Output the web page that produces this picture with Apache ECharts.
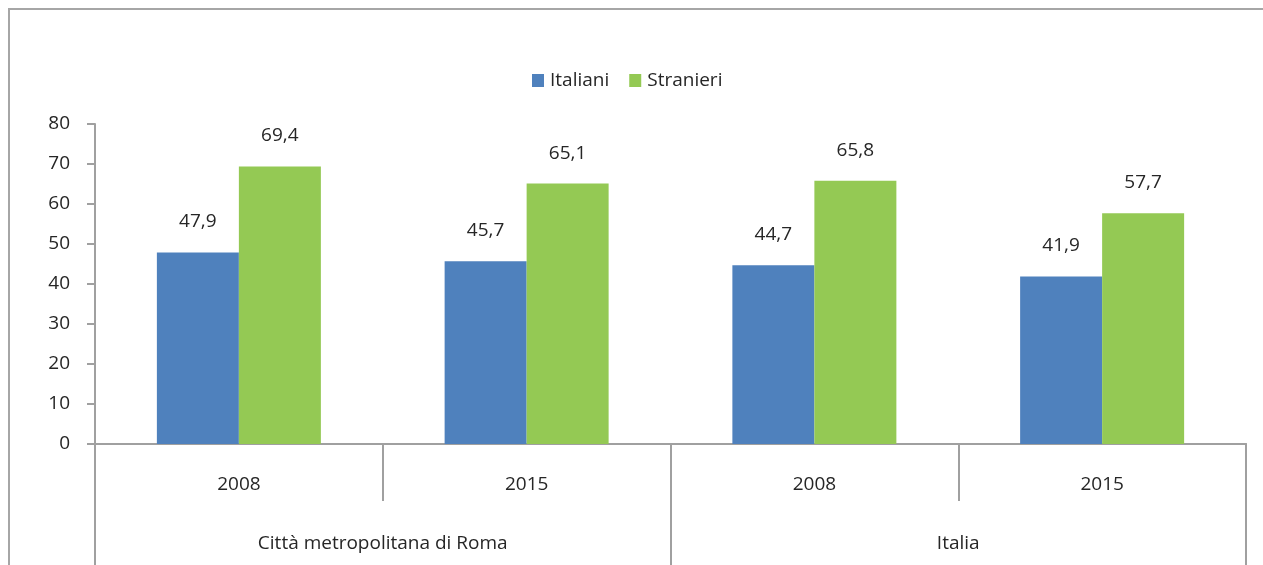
<!DOCTYPE html>
<html>
<head>
<meta charset="utf-8">
<script src="https://cdn.jsdelivr.net/npm/echarts@6/dist/echarts.min.js"></script>
<style>
  html, body { margin: 0; padding: 0; background: #fff; }
  #chart { width: 1263px; height: 565px; }
</style>
</head>
<body>
<div id="chart"></div>
<script>
const years = ["2008", "2015", "2008", "2015"];
const areas = ["Città metropolitana di Roma", "Italia"];
const italiani = [47.9, 45.7, 44.7, 41.9];
const stranieri = [69.4, 65.1, 65.8, 57.7];

const chart = echarts.init(document.getElementById("chart"));

const FONT = "Open Sans";
const FS = 19;
const TEXT = "#262626";
const LINE = "#a0a0a0";

const fmt = (p) => String(p.value).replace(".", ",");

const option = {
  animation: false,
  textStyle: { fontFamily: FONT },
  graphic: [
    {
      type: "rect",
      shape: { x: 9, y: 9, width: 1300, height: 600 },
      style: { fill: "none", stroke: "#a6a6a6", lineWidth: 2 },
      silent: true,
    },
  ],
  legend: {
    top: 66,
    left: 527,
    itemWidth: 12,
    itemHeight: 13,
    itemGap: 20,
    icon: "rect",
    textStyle: { fontFamily: FONT, fontSize: FS, color: TEXT, padding: [0, 0, 0, 1] },
    data: ["Italiani", "Stranieri"],
  },
  grid: { left: 95, right: 17, top: 124, bottom: 121 },
  xAxis: [
    {
      type: "category",
      data: years,
      axisLine: { show: true, lineStyle: { color: LINE, width: 2 } },
      axisTick: { show: true, interval: 0, length: 57, lineStyle: { color: LINE, width: 2 } },
      axisLabel: { margin: 31, fontSize: FS, color: TEXT, fontFamily: FONT },
    },
    {
      type: "category",
      data: areas,
      position: "bottom",
      axisLine: { show: true, lineStyle: { color: LINE, width: 2 } },
      axisTick: { show: true, interval: 0, length: 125, lineStyle: { color: LINE, width: 2 } },
      axisLabel: { margin: 90, fontSize: FS, color: TEXT, fontFamily: FONT },
    },
  ],
  yAxis: {
    type: "value",
    min: 0,
    max: 80,
    interval: 10,
    axisLine: { show: true, lineStyle: { color: LINE, width: 2 } },
    axisTick: { show: true, length: 8, lineStyle: { color: LINE, width: 2 } },
    splitLine: { show: false },
    axisLabel: { margin: 25, fontSize: FS, color: TEXT, fontFamily: FONT },
  },
  series: [
    {
      name: "Italiani",
      type: "bar",
      data: italiani,
      barWidth: 82,
      barGap: "0%",
      itemStyle: { color: "#4f81bd" },
      label: { show: true, position: "top", distance: 21, formatter: fmt, fontSize: FS, color: TEXT, fontFamily: FONT },
    },
    {
      name: "Stranieri",
      type: "bar",
      data: stranieri,
      barWidth: 82,
      barGap: "0%",
      itemStyle: { color: "#94c954" },
      label: { show: true, position: "top", distance: 21, formatter: fmt, fontSize: FS, color: TEXT, fontFamily: FONT },
    },
  ],
};

chart.setOption(option);
</script>
</body>
</html>
